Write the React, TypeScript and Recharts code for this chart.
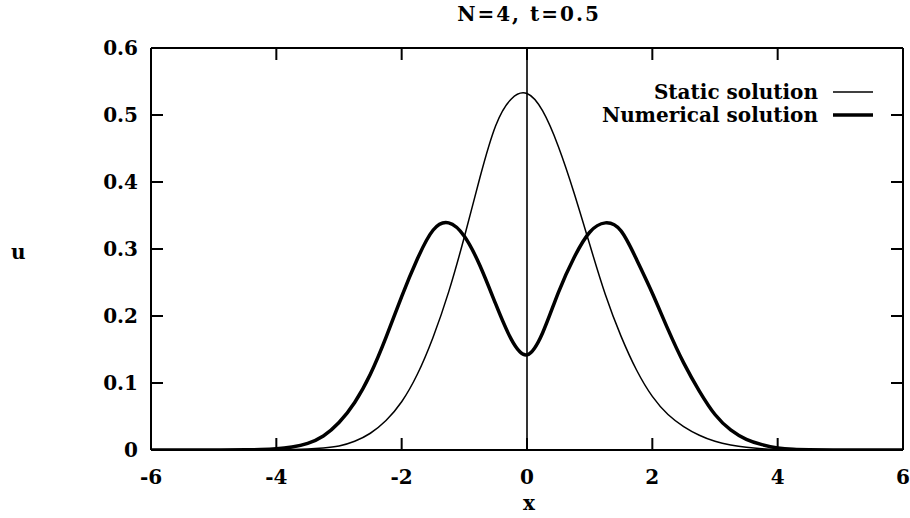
import { LineChart, Line, XAxis, YAxis, ReferenceLine, Legend } from "recharts";

// x positions (grid of the sampled curves)
const xValues = [
  -6, -5.5, -5, -4.5, -4.25, -4, -3.75, -3.5, -3.25, -3, -2.75, -2.5, -2.25, -2, -1.75, -1.5, -1.25, -1,
  -0.75, -0.5, -0.25, 0, 0.25, 0.5, 0.75, 1, 1.25, 1.5, 1.75, 2, 2.25, 2.5, 2.75, 3, 3.25, 3.5, 3.75, 4,
  4.25, 4.5, 5, 5.5, 6,
];

const staticValues = [
  0, 0, 0, 0, 0, 0.0003, 0.0008, 0.0015, 0.003, 0.006, 0.013, 0.025, 0.044, 0.072, 0.113, 0.168, 0.236, 0.318,
  0.407, 0.484, 0.524, 0.532, 0.506, 0.453, 0.384, 0.307, 0.232, 0.17, 0.119, 0.08, 0.053, 0.035, 0.022, 0.013,
  0.0075, 0.004, 0.002, 0.001, 0.0005, 0.0002, 0, 0, 0,
];

const numericalValues = [
  0, 0, 0, 0.0002, 0.0006, 0.0017, 0.0045, 0.01, 0.021, 0.041, 0.071, 0.113, 0.168, 0.229, 0.285, 0.328, 0.339,
  0.319, 0.275, 0.218, 0.165, 0.142, 0.175, 0.235, 0.287, 0.325, 0.339, 0.327, 0.284, 0.234, 0.18, 0.13, 0.088,
  0.053, 0.03, 0.016, 0.008, 0.003, 0.001, 0.0004, 0, 0, 0,
];

const xTicks = [-6, -4, -2, 0, 2, 4, 6];
const yTicks = [0, 0.1, 0.2, 0.3, 0.4, 0.5, 0.6];

const data = xValues.map((x, i) => ({
  x,
  staticSol: staticValues[i],
  numerical: numericalValues[i],
}));

const FONT = "'DejaVu Serif', serif";
const widths: Record<string, number> = { staticSol: 1.5, numerical: 3.5 };
const legendOrder = ["staticSol", "numerical"];

const noLabel = () => <g />;

function LegendBox(props: any) {
  const items = [...(props.payload || [])].sort(
    (a: any, b: any) => legendOrder.indexOf(a.dataKey) - legendOrder.indexOf(b.dataKey)
  );
  return (
    <div style={{ fontFamily: FONT, fontSize: 20, fontWeight: "bold", color: "#000" }}>
      {items.map((it: any) => (
        <div
          key={it.dataKey}
          style={{ display: "flex", justifyContent: "flex-end", alignItems: "center", height: 23 }}
        >
          <span>{it.value}</span>
          <svg width={40} height={10} style={{ marginLeft: 15 }}>
            <line x1={0} y1={5} x2={40} y2={5} stroke="#000" strokeWidth={widths[it.dataKey] || 2} />
          </svg>
        </div>
      ))}
    </div>
  );
}

export default function App() {
  const tickStyle = { fontFamily: FONT, fontSize: 20, fontWeight: "bold", fill: "#000" };
  const labelStyle: any = { position: "absolute", fontFamily: FONT, fontSize: 20, fontWeight: "bold" };
  return (
    <div style={{ position: "absolute", left: 0, top: 0, width: 910, height: 518, background: "#fff" }}>
      <div style={{ ...labelStyle, left: 0, width: 1058, top: 2, textAlign: "center", letterSpacing: 2 }}>
        N=4, t=0.5
      </div>
      <div style={{ ...labelStyle, left: 11, top: 240 }}>u</div>
      <div style={{ ...labelStyle, left: 0, width: 1058, top: 491, textAlign: "center" }}>x</div>
      <LineChart width={910} height={518} data={data} margin={{ top: 47, right: 6, bottom: 38, left: 0 }}>
        <XAxis
          dataKey="x"
          type="number"
          domain={[-6, 6]}
          ticks={xTicks}
          height={30}
          tickSize={-12}
          tickMargin={32}
          tick={tickStyle}
          stroke="#000"
          strokeWidth={2}
          allowDataOverflow
        />
        <XAxis
          xAxisId="top"
          dataKey="x"
          type="number"
          orientation="top"
          domain={[-6, 6]}
          ticks={xTicks}
          height={1}
          tickSize={-12}
          tick={noLabel}
          stroke="#000"
          strokeWidth={2}
          allowDataOverflow
        />
        <YAxis
          type="number"
          domain={[0, 0.6]}
          ticks={yTicks}
          width={151}
          tickSize={-12}
          tickMargin={25}
          tick={tickStyle}
          stroke="#000"
          strokeWidth={2}
          allowDataOverflow
        />
        <YAxis
          yAxisId="right"
          orientation="right"
          type="number"
          domain={[0, 0.6]}
          ticks={yTicks}
          width={1}
          tickSize={-12}
          tick={noLabel}
          stroke="#000"
          strokeWidth={2}
          allowDataOverflow
        />
        <ReferenceLine x={0} stroke="#000" strokeWidth={1.6} />
        <Legend
          layout="vertical"
          align="center"
          verticalAlign="middle"
          content={LegendBox}
          wrapperStyle={{ top: 80, left: 553, width: 320 }}
        />
        <Line
          name="Static solution"
          dataKey="staticSol"
          xAxisId="top"
          yAxisId="right"
          type="natural"
          stroke="#000"
          strokeWidth={widths.staticSol}
          dot={false}
          isAnimationActive={false}
        />
        <Line
          name="Numerical solution"
          dataKey="numerical"
          type="natural"
          stroke="#000"
          strokeWidth={widths.numerical}
          dot={false}
          isAnimationActive={false}
        />
      </LineChart>
    </div>
  );
}
